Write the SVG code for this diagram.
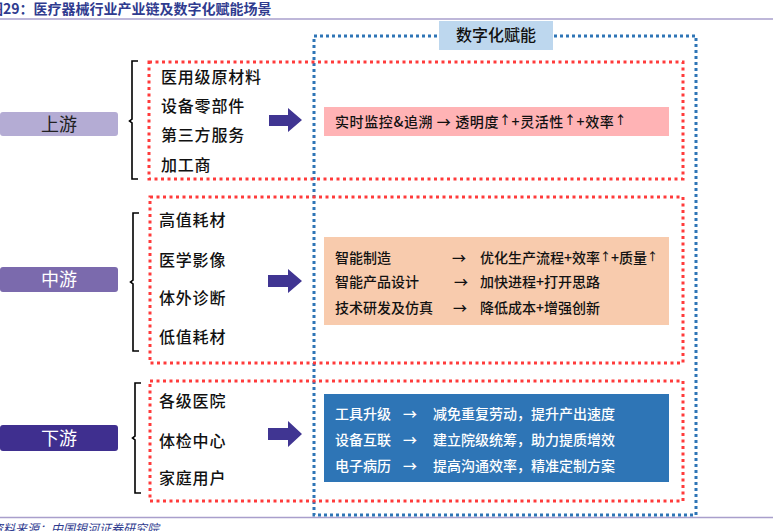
<svg xmlns="http://www.w3.org/2000/svg" width="773" height="531" viewBox="0 0 773 531">
<defs>
<style>
.cjk{font-family:"Noto Sans CJK SC","Noto Sans",sans-serif;}
.rule{stroke:#a99fcc;stroke-width:1.5;fill:none;}
.red{fill:none;stroke:#ff3b3b;stroke-width:3;stroke-dasharray:3 3.5;}
.blue{fill:none;stroke:#2e75b6;stroke-width:3;stroke-dasharray:3 3;}
.br{fill:none;stroke:#000;stroke-width:1.6;}
.item{font-size:16px;fill:#111;letter-spacing:0.8px;font-weight:500;}
.row{font-size:14px;fill:#111;font-weight:500;}
.wrow{font-size:14px;fill:#fff;font-weight:500;}
.arr{fill:#403592;}
</style>
</defs>
<rect width="773" height="531" fill="#fff"/>
<line class="rule" x1="0" y1="19" x2="773" y2="19"/>
<line class="rule" x1="0" y1="517.5" x2="773" y2="517.5"/>
<text class="cjk" x="-11" y="14" font-size="14" font-weight="bold" fill="#2f3b8f">图29：医疗器械行业产业链及数字化赋能场景</text>
<text class="cjk" x="-9" y="533" font-size="12" fill="#2f3b8f" font-style="italic">资料来源：中国银河证券研究院</text>

<g id="digital">
<rect class="blue" x="314" y="36" width="382" height="479"/>
<rect x="439" y="21" width="114" height="29" fill="#bdd7ee"/>
<text class="cjk" x="496" y="41" font-size="16" fill="#111" text-anchor="middle" font-weight="500">数字化赋能</text>
</g>

<g id="upstream">
<rect x="0" y="112" width="118" height="24" rx="3" fill="#b4acd4"/>
<text class="cjk" x="59" y="131" font-size="18" fill="#222" text-anchor="middle">上游</text>
<path class="br" d="M138,61 H132 V119 L129.5,121 L132,123 V179 H138"/>
<rect class="red" x="149" y="62" width="534" height="117"/>
<text class="cjk item" x="161" y="83">医用级原材料</text>
<text class="cjk item" x="161" y="112">设备零部件</text>
<text class="cjk item" x="161" y="141">第三方服务</text>
<text class="cjk item" x="161" y="171">加工商</text>
<path class="arr" d="M269,115 H288 V108 L302,120 L288,132 V126 H269 Z"/>
<rect x="324" y="107" width="345" height="29" fill="#ffb3b5"/>
<text class="cjk row" x="335" y="127" font-size="15" letter-spacing="0.6">实时监控&amp;追溯 → 透明度<tspan font-size="12" dy="-2">↑</tspan><tspan dy="2">+灵活性</tspan><tspan font-size="12" dy="-2">↑</tspan><tspan dy="2">+效率</tspan><tspan font-size="12" dy="-2">↑</tspan></text>
</g>

<g id="midstream">
<rect x="0" y="267" width="118" height="25" rx="3" fill="#7b6aad"/>
<text class="cjk" x="59" y="286" font-size="18" fill="#fff" text-anchor="middle">中游</text>
<path class="br" d="M139,213 H133 V280 L130.5,282 L133,284 V351 H139"/>
<rect class="red" x="150" y="197" width="533" height="166"/>
<text class="cjk item" x="159" y="226">高值耗材</text>
<text class="cjk item" x="159" y="266">医学影像</text>
<text class="cjk item" x="159" y="304">体外诊断</text>
<text class="cjk item" x="159" y="343">低值耗材</text>
<path class="arr" d="M268,275 H288 V269 L302,281 L288,293 V287 H268 Z"/>
<rect x="324" y="237" width="345" height="88" fill="#f8cbad"/>
<text class="cjk row" x="335" y="263">智能制造</text>
<text class="cjk row" x="452" y="263">→</text>
<text class="cjk row" x="480" y="263">优化生产流程+效率<tspan font-size="11" dy="-2">↑</tspan><tspan dy="2">+质量</tspan><tspan font-size="11" dy="-2">↑</tspan></text>
<text class="cjk row" x="335" y="287">智能产品设计</text>
<text class="cjk row" x="454" y="287">→</text>
<text class="cjk row" x="480" y="287">加快进程+打开思路</text>
<text class="cjk row" x="335" y="313">技术研发及仿真</text>
<text class="cjk row" x="453" y="313">→</text>
<text class="cjk row" x="480" y="313">降低成本+增强创新</text>
</g>

<g id="downstream">
<rect x="0" y="425" width="118" height="26" rx="3" fill="#3f2f8f"/>
<text class="cjk" x="59" y="445" font-size="18" fill="#fff" text-anchor="middle">下游</text>
<path class="br" d="M141,383 H135 V436 L132.5,438 L135,440 V493 H141"/>
<rect class="red" x="150" y="381" width="533" height="120"/>
<text class="cjk item" x="159" y="407">各级医院</text>
<text class="cjk item" x="159" y="447">体检中心</text>
<text class="cjk item" x="159" y="484">家庭用户</text>
<path class="arr" d="M268,428 H288 V421 L302,434 L288,447 V440 H268 Z"/>
<rect x="324" y="394" width="345" height="88" fill="#2e75b6"/>
<text class="cjk wrow" x="335" y="419">工具升级</text>
<text class="cjk wrow" x="403" y="419">→</text>
<text class="cjk wrow" x="433" y="419">减免重复劳动，提升产出速度</text>
<text class="cjk wrow" x="335" y="445">设备互联</text>
<text class="cjk wrow" x="403" y="445">→</text>
<text class="cjk wrow" x="433" y="445">建立院级统筹，助力提质增效</text>
<text class="cjk wrow" x="335" y="471">电子病历</text>
<text class="cjk wrow" x="403" y="471">→</text>
<text class="cjk wrow" x="433" y="471">提高沟通效率，精准定制方案</text>
</g>
</svg>
